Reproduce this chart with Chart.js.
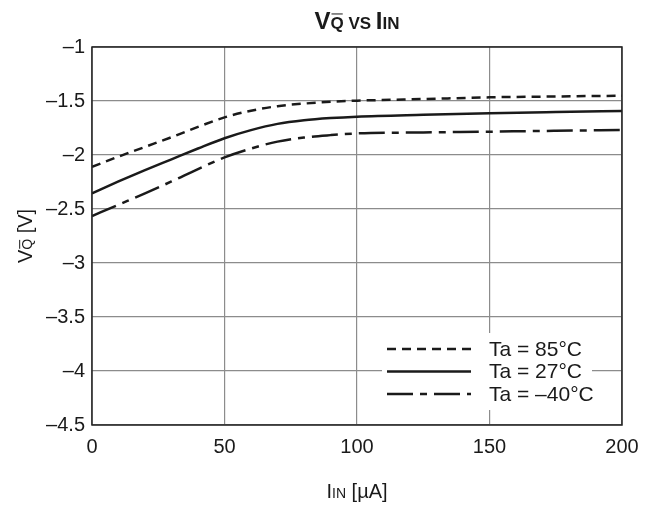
<!DOCTYPE html>
<html>
<head>
<meta charset="utf-8">
<script src="https://cdn.jsdelivr.net/npm/chart.js@4.4.0/dist/chart.umd.min.js"></script>
<style>
html,body{margin:0;padding:0;background:#fff;}
#wrap{width:658px;height:505px;position:relative;}
</style>
</head>
<body>
<div id="wrap"><canvas id="c" width="658" height="505"></canvas></div>
<script>
const iin = [0, 10, 20, 30, 40, 50, 60, 70, 80, 90, 100, 125, 150, 175, 200];
const v85 = [-2.11, -2.015, -1.925, -1.835, -1.74, -1.652, -1.59, -1.548, -1.524, -1.508, -1.497, -1.482, -1.466, -1.458, -1.451];
const v27 = [-2.355, -2.245, -2.14, -2.04, -1.94, -1.845, -1.77, -1.712, -1.678, -1.658, -1.645, -1.628, -1.614, -1.603, -1.593];
const vm40 = [-2.565, -2.46, -2.355, -2.245, -2.13, -2.022, -1.94, -1.876, -1.838, -1.816, -1.80, -1.791, -1.784, -1.776, -1.769];
const seriesLabels = ['Ta = 85°C', 'Ta = 27°C', 'Ta = –40°C'];
const xTicks = [0, 50, 100, 150, 200];
const yTicks = [-4.5, -4, -3.5, -3, -2.5, -2, -1.5, -1];

const FONT = '"Liberation Sans", Arial, Helvetica, sans-serif';
const INK = '#1a1a1a';

function pts(ys){ return iin.map((x,i)=>({x:x, y:ys[i]})); }

const dashes = [[9,6], [], [26,7,7,7]];

function drawRich(ctx, parts, cx, cy, rotate){
  ctx.save();
  let total = 0;
  parts.forEach(p=>{ ctx.font = (p.bold?'bold ':'') + p.size + 'px ' + FONT; p.w = ctx.measureText(p.t).width; total += p.w; });
  ctx.translate(cx, cy);
  if (rotate) ctx.rotate(-Math.PI/2);
  let x = -total/2;
  ctx.textBaseline = 'alphabetic';
  ctx.textAlign = 'left';
  ctx.fillStyle = INK;
  const base = parts.reduce((m,p)=>Math.max(m,p.size),0) * 0.36;
  parts.forEach(p=>{
    ctx.font = (p.bold?'bold ':'') + p.size + 'px ' + FONT;
    ctx.fillText(p.t, x, base);
    if (p.over){
      ctx.strokeStyle = INK;
      ctx.lineWidth = 1;
      const oy = base - p.size*0.716 - 2.5;
      ctx.beginPath(); ctx.moveTo(x+1, oy); ctx.lineTo(x+p.w-1, oy); ctx.stroke();
    }
    x += p.w;
  });
  ctx.restore();
}

const decor = {
  id:'decor',
  beforeDatasetsDraw(chart){
    const ctx = chart.ctx;
    ctx.save();
    ctx.fillStyle = '#fff';
    ctx.fillRect(382, 333, 210, 77);
    ctx.restore();
  },
  afterDatasetsDraw(chart){
    const ctx = chart.ctx;
    const a = chart.chartArea;
    ctx.save();
    ctx.strokeStyle = '#222';
    ctx.lineWidth = 1.5;
    ctx.strokeRect(a.left, a.top, a.right-a.left, a.bottom-a.top);
    const rows = [349, 371.5, 394];
    chart.data.datasets.forEach((ds,i)=>{
      ctx.strokeStyle = ds.borderColor;
      ctx.lineWidth = ds.borderWidth;
      ctx.setLineDash(ds.borderDash || []);
      ctx.beginPath(); ctx.moveTo(387, rows[i]); ctx.lineTo(471, rows[i]); ctx.stroke();
      ctx.setLineDash([]);
      ctx.fillStyle = INK;
      ctx.font = '21px ' + FONT;
      ctx.textBaseline = 'middle';
      ctx.textAlign = 'left';
      ctx.fillText(ds.label, 489, rows[i]+1);
    });
    ctx.restore();
    drawRich(ctx, [
      {t:'V', size:24, bold:true},
      {t:'Q', size:17, bold:true, over:true},
      {t:' VS ', size:17, bold:true},
      {t:'I', size:24, bold:true},
      {t:'IN', size:17, bold:true}
    ], 357, 20, false);
    drawRich(ctx, [
      {t:'I', size:20},
      {t:'IN', size:14},
      {t:' [µA]', size:20}
    ], 357, 491, false);
    drawRich(ctx, [
      {t:'V', size:20},
      {t:'Q', size:14, over:true},
      {t:' [V]', size:20}
    ], 25, 236, true);
  }
};

new Chart(document.getElementById('c'), {
  type:'scatter',
  data:{
    datasets:[
      {label:seriesLabels[0], data:pts(v85), borderDash:dashes[0]},
      {label:seriesLabels[1], data:pts(v27), borderDash:dashes[1]},
      {label:seriesLabels[2], data:pts(vm40), borderDash:dashes[2]}
    ].map(d=>Object.assign(d,{showLine:true, pointRadius:0, borderColor:INK, borderWidth:2.5, cubicInterpolationMode:'monotone', fill:false}))
  },
  options:{
    responsive:false,
    animation:false,
    layout:{padding:{left:0, right:36, top:47, bottom:0}},
    plugins:{legend:{display:false}, title:{display:false}, tooltip:{enabled:false}},
    scales:{
      x:{
        type:'linear', min:0, max:200,
        afterBuildTicks(s){ s.ticks = xTicks.map(v=>({value:v})); },
        afterFit(s){ s.height = 80; },
        grid:{color:'#8c8c8c', lineWidth:1.2, drawTicks:false},
        border:{display:false},
        ticks:{padding:10, color:INK, font:{family:FONT, size:20}, maxRotation:0}
      },
      y:{
        type:'linear', min:-4.5, max:-1,
        afterBuildTicks(s){ s.ticks = yTicks.map(v=>({value:v})); },
        afterFit(s){ s.width = 92; },
        grid:{color:'#8c8c8c', lineWidth:1.2, drawTicks:false},
        border:{display:false},
        ticks:{padding:7, color:INK, font:{family:FONT, size:20}, callback:v=>String(v).replace('-', '–')}
      }
    }
  },
  plugins:[decor]
});
</script>
</body>
</html>
